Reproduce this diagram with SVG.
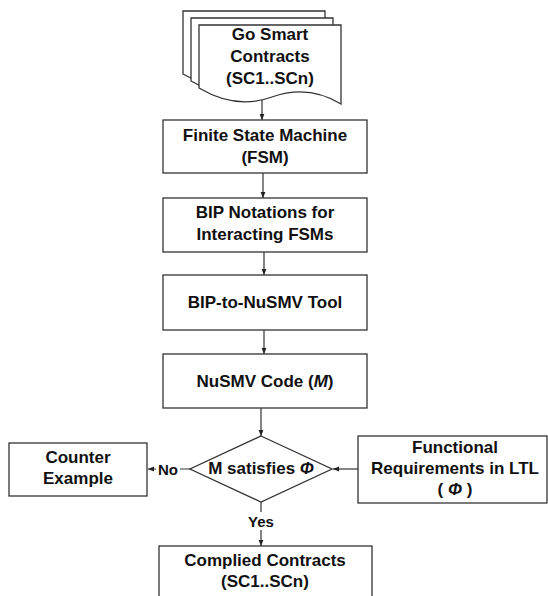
<svg xmlns="http://www.w3.org/2000/svg" width="548" height="596" viewBox="0 0 548 596">
<defs>
<style>
.box{fill:#fff;stroke:#333;stroke-width:1.3}
.t{font-family:"Liberation Sans",Arial,sans-serif;font-weight:bold;font-size:17px;fill:#111;text-anchor:middle}
.lbl{font-family:"Liberation Sans",Arial,sans-serif;font-weight:bold;font-size:15px;fill:#111;text-anchor:middle}
.ln{fill:none;stroke:#333;stroke-width:1.2}
</style>
<marker id="ah" viewBox="0 0 10 10" refX="10" refY="5" markerWidth="6" markerHeight="6" orient="auto" markerUnits="userSpaceOnUse">
<path d="M0,1 L10,5 L0,9 Z" fill="#222"/>
</marker>
<path id="doc" d="M199,25 H341 V104 Q308,84 272,97 T199,88 Z"/>
</defs>
<rect width="548" height="596" fill="#fff"/>
<g id="connectors">
<line class="ln" x1="262" y1="99" x2="262" y2="120" marker-end="url(#ah)"/>
<line class="ln" x1="263" y1="173" x2="263" y2="198" marker-end="url(#ah)"/>
<line class="ln" x1="264" y1="252" x2="264" y2="275" marker-end="url(#ah)"/>
<line class="ln" x1="264" y1="330" x2="264" y2="354" marker-end="url(#ah)"/>
<line class="ln" x1="261" y1="408" x2="261" y2="436" marker-end="url(#ah)"/>
<line class="ln" x1="358" y1="469" x2="333" y2="469" marker-end="url(#ah)"/>
<line class="ln" x1="190" y1="469" x2="148" y2="469" marker-end="url(#ah)"/>
<rect x="156" y="459" width="24" height="18" fill="#fff"/>
<text class="lbl" x="168" y="475">No</text>
<line class="ln" x1="261" y1="502" x2="261" y2="546" marker-end="url(#ah)"/>
<rect x="246" y="512" width="30" height="18" fill="#fff"/>
<text class="lbl" x="261" y="527">Yes</text>
</g>
<g id="go-smart-contracts">
<use href="#doc" class="box" transform="translate(-16,-14)"/>
<use href="#doc" class="box" transform="translate(-8,-7)"/>
<use href="#doc" class="box"/>
<text class="t" x="270" y="40">Go Smart</text>
<text class="t" x="270" y="62">Contracts</text>
<text class="t" x="270" y="84">(SC1..SCn)</text>
</g>
<g id="fsm">
<rect class="box" x="163" y="120" width="204" height="53"/>
<text class="t" x="265" y="141">Finite State Machine</text>
<text class="t" x="265" y="163">(FSM)</text>
</g>
<g id="bip">
<rect class="box" x="163" y="198" width="204" height="54"/>
<text class="t" x="265" y="218">BIP Notations for</text>
<text class="t" x="265" y="240">Interacting FSMs</text>
</g>
<g id="bip-to-nusmv">
<rect class="box" x="163" y="275" width="204" height="55"/>
<text class="t" x="265" y="308">BIP-to-NuSMV Tool</text>
</g>
<g id="nusmv-code">
<rect class="box" x="163" y="354" width="204" height="54"/>
<text class="t" x="265" y="387">NuSMV Code (<tspan font-style="italic">M</tspan>)</text>
</g>
<g id="decision">
<path class="box" d="M261,436 L332,469 L261,502 L190,469 Z"/>
<text class="t" x="261" y="474">M satisfies <tspan font-style="italic">Φ</tspan></text>
</g>
<g id="counter-example">
<rect class="box" x="9" y="443" width="138" height="53"/>
<text class="t" x="78" y="463">Counter</text>
<text class="t" x="78" y="484">Example</text>
</g>
<g id="functional-requirements">
<rect class="box" x="358" y="436" width="189" height="67"/>
<text class="t" x="455" y="453">Functional</text>
<text class="t" x="455" y="474">Requirements in LTL</text>
<text class="t" x="455" y="495">( <tspan font-style="italic">Φ</tspan> )</text>
</g>
<g id="complied-contracts">
<rect class="box" x="159" y="546" width="213" height="60"/>
<text class="t" x="265" y="566">Complied Contracts</text>
<text class="t" x="265" y="587">(SC1..SCn)</text>
</g>
</svg>
